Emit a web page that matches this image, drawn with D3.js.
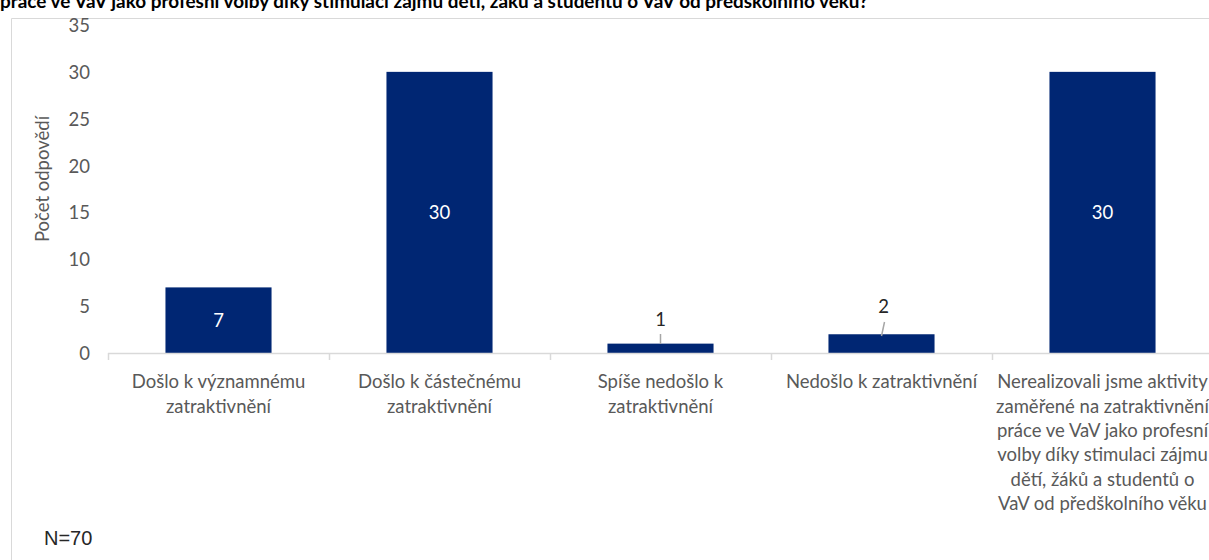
<!DOCTYPE html>
<html><head><meta charset="utf-8">
<script src="https://cdn.jsdelivr.net/npm/d3@7"></script>
<style>body{margin:0;background:#fff;overflow:hidden}svg{display:block}</style>
</head><body>
<svg id="c" width="1209" height="560"></svg>
<script>
const title = "práce ve VaV jako profesní volby díky stimulaci zájmu dětí, žáků a studentů o VaV od předškolního věku?";
const categories = [
  ["Došlo k významnému", "zatraktivnění"],
  ["Došlo k částečnému", "zatraktivnění"],
  ["Spíše nedošlo k", "zatraktivnění"],
  ["Nedošlo k zatraktivnění"],
  ["Nerealizovali jsme aktivity", "zaměřené na zatraktivnění", "práce ve VaV jako profesní", "volby díky stimulaci zájmu", "dětí, žáků a studentů o", "VaV od předškolního věku"]
];
const values = [7, 30, 1, 2, 30];
const yTicks = [0, 5, 10, 15, 20, 25, 30, 35];
const yTitle = "Počet odpovědí";
const note = "N=70";

const svg = d3.select("#c");
const font = "Lato, 'Open Sans', sans-serif";
const gray = "#595959";
const barColor = "#002673";
const fs = 18.5;

// chart frame
svg.append("path").attr("d", "M11.5,560 V18.5 H1209").attr("fill", "none").attr("stroke", "#d9d9d9").attr("stroke-width", 1);

// title (cut at top, as in the source image)
svg.append("text").attr("x", 0).attr("y", 7.5).text(title)
  .attr("font-family", font).attr("font-weight", "bold").attr("font-size", 18)
  .attr("fill", "#000").attr("textLength", 868).attr("lengthAdjust", "spacingAndGlyphs");

const idx = categories.map((d, i) => i);
const x = d3.scaleBand().domain(idx).range([108, 1213]).paddingInner(0.52).paddingOuter(0.26);
const y = d3.scaleLinear().domain([0, 35]).range([353, 25]);

// y axis labels
const yAxis = d3.axisLeft(y).tickValues(yTicks).tickSize(0).tickPadding(0);
const gy = svg.append("g").attr("transform", "translate(90,0)").call(yAxis);
gy.select(".domain").remove();
gy.selectAll("text").attr("font-family", font).attr("font-size", fs).attr("fill", gray).attr("dy", "0.35em");

// y title
svg.append("text").attr("transform", "translate(49,179) rotate(-90)")
  .attr("text-anchor", "middle").attr("font-family", font).attr("font-size", fs).attr("fill", gray).text(yTitle);

// bars
svg.append("g").selectAll("rect").data(values).join("rect")
  .attr("x", (d, i) => x(i)).attr("width", x.bandwidth())
  .attr("y", d => y(d)).attr("height", d => y(0) - y(d)).attr("fill", barColor);

// x axis line and ticks
const step = x.step();
const edges = idx.map(i => x(i) - (step - x.bandwidth()) / 2);
svg.append("line").attr("x1", 108).attr("x2", 1213).attr("y1", 353.5).attr("y2", 353.5).attr("stroke", "#d9d9d9").attr("stroke-width", 1.5);
svg.append("g").selectAll("line").data(edges).join("line")
  .attr("x1", d => Math.round(d) + 0.5).attr("x2", d => Math.round(d) + 0.5).attr("y1", 353).attr("y2", 360)
  .attr("stroke", "#d9d9d9").attr("stroke-width", 1.5);

// category labels
const cx = i => x(i) + x.bandwidth() / 2;
const gl = svg.append("g");
categories.forEach((lines, i) => {
  const t = gl.append("text").attr("text-anchor", "middle").attr("font-family", font).attr("font-size", fs).attr("fill", gray);
  lines.forEach((ln, j) => t.append("tspan").attr("x", cx(i)).attr("y", 382 + j * 24.3).attr("dy", "0.35em").text(ln));
});

// data labels inside tall bars
values.forEach((v, i) => {
  const h = y(0) - y(v);
  if (h > 25) {
    svg.append("text").attr("x", cx(i)).attr("y", (y(v) + y(0)) / 2).attr("dy", "0.35em")
      .attr("text-anchor", "middle").attr("font-family", font).attr("font-size", fs).attr("fill", "#fff").text(v);
  }
});
// small bars: labels above with leader lines
const outside = [{i: 2, lx: 0, ly: 320, l: [[0, 334], [0, 344]]}, {i: 3, lx: 2, ly: 307, l: [[3, 322], [0, 336]]}];
outside.forEach(o => {
  const c = cx(o.i);
  svg.append("line").attr("x1", c + o.l[0][0]).attr("y1", o.l[0][1]).attr("x2", c + o.l[1][0]).attr("y2", o.l[1][1])
    .attr("stroke", "#a6a6a6").attr("stroke-width", 1.5);
  svg.append("text").attr("x", c + o.lx).attr("y", o.ly).attr("dy", "0.35em").attr("text-anchor", "middle")
    .attr("font-family", font).attr("font-size", fs).attr("fill", "#262626").text(values[o.i]);
});

// note
svg.append("text").attr("x", 44).attr("y", 538).attr("dy", "0.35em").attr("font-family", "'Liberation Sans', Arial, sans-serif")
  .attr("font-size", 20).attr("fill", "#262626").text(note);
</script>
</body></html>
